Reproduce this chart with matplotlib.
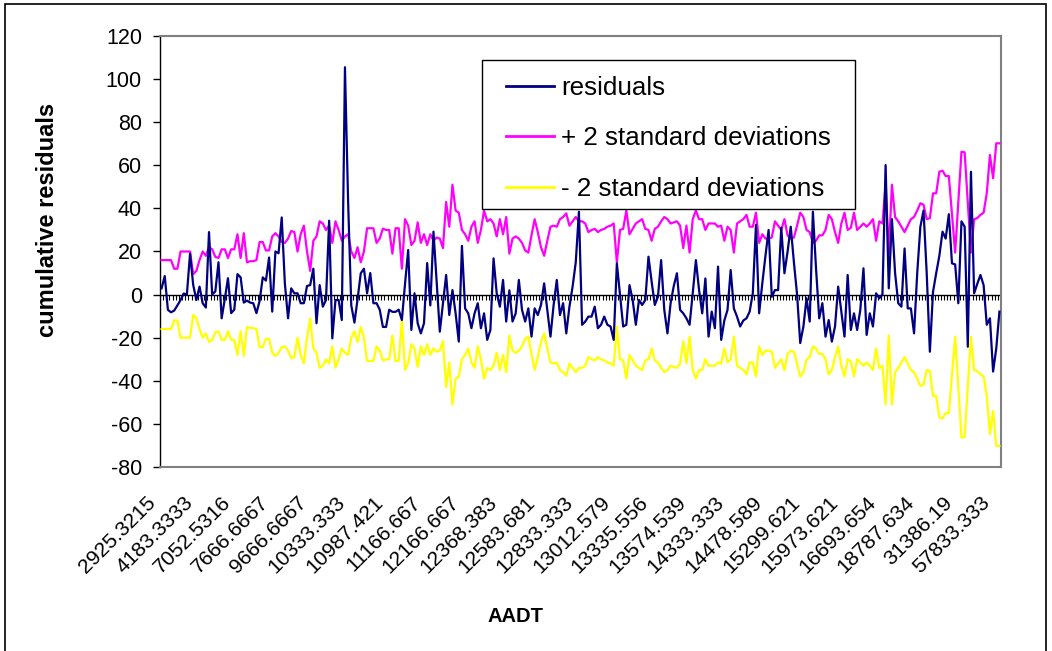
import numpy as np
import matplotlib
matplotlib.use("Agg")
import matplotlib.pyplot as plt
import matplotlib.transforms as mtransforms
from matplotlib.patches import Rectangle

plt.rcParams['font.family'] = ['Liberation Sans', 'DejaVu Sans']
plt.rcParams['axes.unicode_minus'] = False

# --- data ---
tick_labels = ['2925.3215', '4183.3333', '7052.5316', '7666.6667', '9666.6667',
               '10333.333', '10987.421', '11166.667', '12166.667', '12368.383',
               '12583.681', '12833.333', '13012.579', '13335.556', '13574.539',
               '14333.333', '14478.589', '15299.621', '15973.621', '16693.654',
               '18787.634', '31386.19', '57833.333']
label_step = 12

residuals = [
    2.9, 8.6, -7.1, -8.2, -7.4, -5, -2.5, 0.5, 0, 19,
    4.5, -2.5, 3.7, -4, -6, 29, 0, 1.5, 15,
    -11, -2, 7.6, -8.6, -7, 9.5, 8, -3.7, -2.8, -3.7,
    -4, -8.6, -3, 8, 6.5, 17.2, -7.9, 20, 19.2, 35.8,
    5, -11, 2.9, 0.6, 0.6, -4, -4, 4, 4.4, 12,
    -13.3, 4.4, -5.6, -2.5, 34.3, -20.3, -2.5, -2.5, -11.8,
    105.5, 43, -5, -13, -2, 9.9, 12, 0.6, 10, -4,
    -4, -7, -15, -15, -7, -8, -8, -7, -11.8,
    5, 20.7, -16.4, 0.6, -13.3, -18, -13.3, 14.6, -5, 29.2,
    6, -17.2, -4, 9.1, -9.5, 2.1, -8.7, -21.8, 22.6,
    -6.4, -8.7, -15.6, -8.7, -4, -15.6, -8.7, -21, -16.4, 16.8,
    0.6, -5.6, 6.8, -12.5, 2, -12.5, -8.7, 6.8, -7.1, -12.5,
    -6.4, -19.5, -6.4, -9.5, -4.8, 5.2, -7.1, -19.5, -4.8,
    6.8, -9.5, -4, -18, -5.6, 3.7, 15, 38.5, -14, -12.5,
    -10.2, -10.2, -5.6, -15.6, -14, -10.2, -14, -14.8, -21, 14.5,
    0, -14.8, -14, 4.4, -2.5, -14, -2.5, -4.8, -2.5,
    17.6, 6, -4.8, -1, 16, -7.1, -18, -4, 4, 9.9,
    -7.1, -8.7, -11, -14, 0.6, 16, 2.1, -8.7, 7.5, -19.5,
    -7.9, -15.6, 13, -21, -12, -7.1, 11.4, -6.4, -10.2, -14.8,
    -12, -11, -7.9, 0.6, 32.3, -8.7, 5.2, 18, 30, -1,
    2.1, 2.1, 31, 9.9, 20, 31.5, 15, 0, -22.5,
    -14.8, -1.7, -12.5, 38.5, 12, -11, -4, -19.5, -11.8, -21.8,
    -14.8, 3.7, -8, -19.5, 9.1, -16.4, -8.7, -16.4, -7.1,
    12.2, -18.7, -8.7, -14.8, 0.6, -1.7, 0, 60.1, 2.9, 35,
    10, -4, -5.6, 21.4, -6.4, -6.4, -18, 10, 31.5, 39,
    10, -26.5, 1.3, 9.9, 18, 29.2, 26, 37.3, 14.5,
    14, -4, 34, 31.5, -24.2, 57, 0.6, 5, 9.1, 4.4,
    -14, -11, -35.7, -25, -7.9,
]

# two standard deviations (band is symmetric around zero)
two_sd = [
    16, 16, 16, 16, 12, 12, 20, 20, 20, 20,
    9.5, 11, 16, 20, 18, 22, 21, 17.5, 17,
    21, 21, 17, 21, 21, 28, 17, 28.5, 15, 15.5,
    15.5, 16, 24.4, 24.4, 20.5, 20.5, 27, 28.5, 27, 24.4,
    24, 26, 29.5, 29, 20, 28, 32, 20, 11, 25,
    27, 34, 33, 30, 32, 24, 34, 30, 25,
    27, 28, 20, 17, 22, 15, 20, 30.8, 30.8, 30.8,
    24, 26, 30.6, 30, 30, 19, 30.8, 30.8, 12,
    35, 32, 23, 25, 33.5, 24, 28, 23,
    28, 25, 26.5, 26, 21.6, 43, 31.5, 51, 39, 38,
    30, 28, 25, 31.5, 34, 24, 30, 39, 34,
    35, 33, 27, 35, 28, 36, 19, 26, 27, 26,
    24, 20.5, 19.5, 27.5, 35, 29, 22, 18, 25,
    31.5, 32, 31.5, 35, 36, 37.7, 32, 34, 36, 34,
    34, 33, 29, 30, 30.5, 29, 30, 30.5, 31.5, 32,
    33, 15, 30, 30.5, 39, 28, 30.5, 33, 34, 35,
    30.5, 30, 25, 30.5, 31.5, 34, 36, 35, 33,
    33.5, 34, 32, 21.6, 32, 19.5, 35, 39, 35, 35,
    30, 33, 33, 33, 31.5, 32, 25, 31.5,
    30, 19.5, 33, 34, 35, 37, 31.5, 31.5, 38, 24,
    28, 26, 26, 26.5, 34, 32, 30, 35, 27.5,
    26, 26.5, 32, 38, 36, 30, 29, 24, 25, 27.5,
    27.5, 30, 37, 35, 29, 24, 33, 38, 30, 31,
    38, 30, 31.5, 33, 31.5, 33, 35, 25, 34,
    33, 51, 19, 51, 36, 34, 31.5, 29, 32, 35,
    36, 39, 42.4, 41.7, 35, 35.5, 47, 47, 57, 57.5,
    55, 55, 37, 19.5, 43, 66.3, 66, 43, 19.5,
    35, 35.5, 37, 38, 47, 64.8, 54, 70.2, 70.2,
]

resid = np.array(residuals)
upper = np.array(two_sd)
lower = -upper
n = len(resid)
x = np.arange(n)

fig = plt.figure(figsize=(10.52, 6.51), dpi=100)
ax = fig.add_axes([160 / 1052, 1 - 467 / 651, 841 / 1052, 431 / 651])

l1, = ax.plot(x, resid, color='#000080', lw=1.6, zorder=4)
l2, = ax.plot(x, upper, color='#FF00FF', lw=1.6, zorder=3)
l3, = ax.plot(x, lower, color='#FFFF00', lw=1.6, zorder=3)

ax.set_xlim(-0.5, n - 0.5)
ax.set_ylim(-80, 120)
ax.set_yticks(np.arange(-80, 121, 20))
ax.tick_params(axis='y', direction='out', length=5, width=1, pad=8, labelsize=15.5)
ax.set_xticks([])

for side in ['top', 'right', 'bottom']:
    ax.spines[side].set_color('#808080')
    ax.spines[side].set_linewidth(1.5)
ax.spines['left'].set_color('black')
ax.spines['left'].set_linewidth(1)

# category axis crossing at zero, with a tick between every category
ax.axhline(0, color='black', lw=1, zorder=2)
ax.vlines(np.arange(n + 1) - 0.5, -2.4, 0, color='black', lw=0.8, zorder=2)

# rotated category labels along the bottom
base = mtransforms.blended_transform_factory(ax.transData, ax.transAxes)
lab_trans = mtransforms.offset_copy(base, fig=fig, x=-16, y=-26, units='dots')
for j, lab in enumerate(tick_labels):
    ax.text(j * label_step, 0, lab, transform=lab_trans, rotation=45,
            ha='right', va='top', rotation_mode='anchor', fontsize=15.2)

fig.text(48 / 1052, 1 - 220 / 651, 'cumulative residuals', rotation=90,
         ha='center', va='center', fontsize=17, fontweight='bold')
fig.text(516 / 1052, 1 - 617 / 651, 'AADT', ha='center', va='center',
         fontsize=14.5, fontweight='bold')

leg = fig.legend([l1, l2, l3],
                 ['residuals', '+ 2 standard deviations', '- 2 standard deviations'],
                 loc='upper left', bbox_to_anchor=(506 / 1052, 1 - 76 / 651),
                 frameon=False, fontsize=18.7, handlelength=1.85,
                 handletextpad=0.26, labelspacing=1.02, borderpad=0,
                 borderaxespad=0)
for h in leg.legend_handles:
    h.set_linewidth(2)

fig.patches.append(Rectangle((482 / 1052, 1 - 209 / 651), 373 / 1052, 149 / 651,
                             transform=fig.transFigure, fill=False,
                             edgecolor='black', lw=1, zorder=5))
fig.patches.append(Rectangle((5 / 1052, -0.01), 1041 / 1052, 1 - 4 / 651 + 0.01,
                             transform=fig.transFigure, fill=False,
                             edgecolor='black', lw=1.2))

fig.savefig('out.png', dpi=100)
